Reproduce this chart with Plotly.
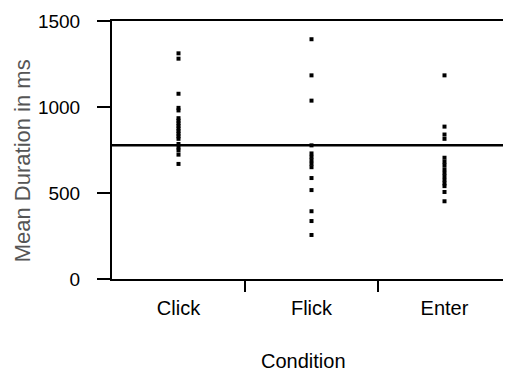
import plotly.graph_objects as go

categories = ["Click", "Flick", "Enter"]
click_ms = [1312, 1281, 1077, 995, 980, 935, 920, 905, 890, 875, 860, 845, 830, 815, 785, 765, 748, 723, 669]
flick_ms = [1394, 1184, 1037, 777, 730, 710, 690, 670, 650, 587, 517, 394, 337, 256]
enter_ms = [1184, 886, 840, 815, 705, 682, 662, 638, 617, 597, 576, 556, 540, 506, 452]
grand_mean = 777
y_ticks = [0, 500, 1000, 1500]

series = [click_ms, flick_ms, enter_ms]
FONT = "Liberation Sans, Arial, sans-serif"

fig = go.Figure()
for i, vals in enumerate(series):
    fig.add_trace(go.Scatter(
        x=[i] * len(vals), y=vals, mode="markers",
        marker=dict(symbol="square", size=4, color="black", line=dict(width=0)),
        showlegend=False, hoverinfo="y"))

# invisible trace to keep boundary-tick axis alive
fig.add_trace(go.Scatter(x=[], y=[], xaxis="x2", showlegend=False))

fig.add_shape(type="line", xref="paper", yref="y", x0=0, x1=1,
              y0=grand_mean, y1=grand_mean, line=dict(color="black", width=2.5))

# page body has an 8px margin, so the figure is sized/offset to compensate
fig.update_layout(
    width=503, height=364,
    margin=dict(l=104, r=0, t=13, b=93),
    paper_bgcolor="white", plot_bgcolor="white",
    font=dict(family=FONT, size=19, color="black"),
    xaxis=dict(range=[-0.5, 2.5], tickmode="array", tickvals=[0, 1, 2], ticktext=categories,
               ticks="", showgrid=False, zeroline=False, showline=True, linecolor="black",
               linewidth=2, mirror=True, ticklabelstandoff=10,
               tickfont=dict(family=FONT, size=20, color="black")),
    xaxis2=dict(overlaying="x", anchor="y", side="bottom", range=[-0.5, 2.5],
                tickmode="array", tickvals=[0.5, 1.5], ticks="outside", ticklen=12,
                tickwidth=2, tickcolor="black", showticklabels=False, showgrid=False,
                zeroline=False, showline=False),
    yaxis=dict(range=[0, 1500], tickmode="array", tickvals=y_ticks, ticks="outside",
               ticklen=13, tickwidth=2, tickcolor="black", showgrid=False, zeroline=False,
               showline=True, linecolor="black", linewidth=2, ticklabelstandoff=13,
               tickfont=dict(family=FONT, size=19, color="black")),
    annotations=[
        dict(text="Mean Duration in ms", xref="paper", yref="paper", x=-0.2256, y=0.46,
             xanchor="center", yanchor="middle", textangle=-90, showarrow=False,
             font=dict(family=FONT, size=22, color="#555555")),
        dict(text="Condition", xref="paper", yref="paper", x=0.481, y=-0.318,
             xanchor="center", yanchor="middle", showarrow=False,
             font=dict(family=FONT, size=20, color="black")),
    ],
)

fig.write_html("out.html")
